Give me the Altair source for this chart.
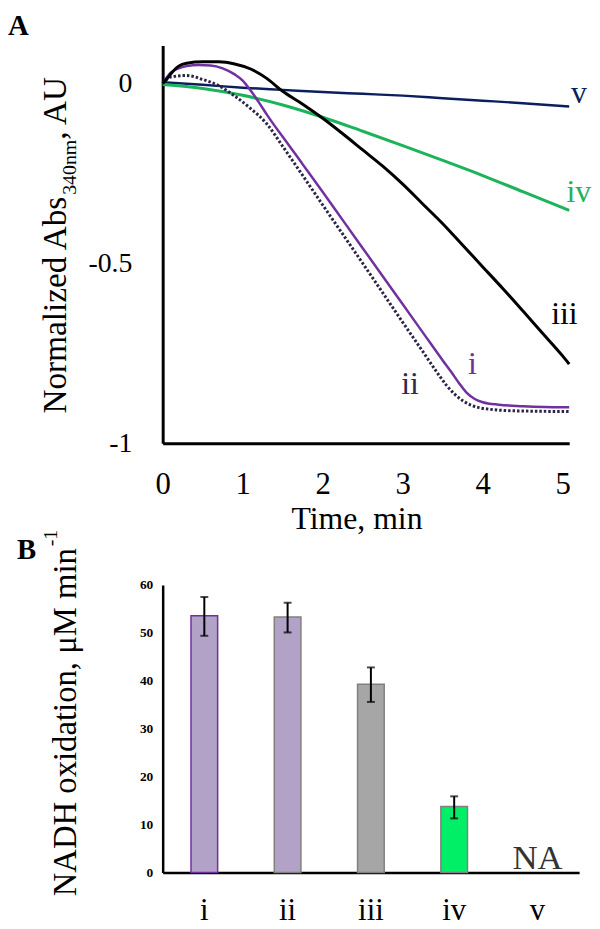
import altair as alt
import pandas as pd

FONT = "Liberation Serif"

# ---------------- Panel A: normalized absorbance traces ----------------
t_i = [0, 0.1, 0.2, 0.3, 0.45, 0.6, 0.75, 0.9, 1.0, 1.1, 1.2, 1.3, 1.4, 1.5, 1.75, 2.0, 2.25, 2.5, 2.75,
       3.0, 3.25, 3.5, 3.6, 3.7, 3.8, 3.9, 4.0, 4.2, 4.5, 5.0, 5.08]
v_i = [0, 0.03, 0.042, 0.048, 0.051, 0.050, 0.042, 0.025, 0.008, -0.02, -0.052, -0.086, -0.118, -0.148,
       -0.225, -0.302, -0.38, -0.458, -0.536, -0.614, -0.692, -0.77, -0.80, -0.832, -0.86, -0.877, -0.886,
       -0.893, -0.897, -0.90, -0.90]

t_ii = [0, 0.1, 0.3, 0.5, 0.7, 0.9, 1.1, 1.3, 1.5, 1.75, 2.0, 2.25, 2.5, 2.75, 3.0, 3.25, 3.45, 3.55, 3.65,
        3.75, 3.85, 3.95, 4.1, 4.4, 5.08]
v_ii = [0, 0.018, 0.022, 0.011, -0.006, -0.035, -0.07, -0.112, -0.175, -0.256, -0.338, -0.419, -0.50,
        -0.582, -0.664, -0.745, -0.81, -0.84, -0.864, -0.882, -0.894, -0.901, -0.906, -0.91, -0.912]

t_iii = [0, 0.05, 0.1, 0.2, 0.3, 0.5, 0.7, 0.9, 1.1, 1.3, 1.5, 1.75, 2.0, 2.25, 2.5, 2.75, 3.0, 3.25, 3.5,
         3.75, 4.0, 4.25, 4.5, 4.75, 5.0, 5.08]
v_iii = [0, 0.012, 0.026, 0.048, 0.056, 0.060, 0.060, 0.054, 0.040, 0.014, -0.022, -0.058, -0.097, -0.14,
         -0.185, -0.23, -0.28, -0.335, -0.39, -0.45, -0.51, -0.57, -0.632, -0.695, -0.758, -0.78]

t_iv = [0, 0.5, 1.0, 1.5, 2.0, 2.5, 3.0, 3.5, 4.0, 4.5, 5.08]
v_iv = [-0.003, -0.014, -0.033, -0.060, -0.094, -0.133, -0.173, -0.214, -0.256, -0.301, -0.353]

t_v = [0, 0.5, 1.0, 1.5, 2.0, 2.5, 3.0, 3.5, 4.0, 4.5, 5.08]
v_v = [0.003, -0.004, -0.012, -0.018, -0.024, -0.029, -0.034, -0.041, -0.048, -0.055, -0.064]

x_ticks_A = [0, 1, 2, 3, 4, 5]
y_ticks_A = [0, -0.5, -1]

curve_labels = ["i", "ii", "iii", "iv", "v"]
curve_label_t = [3.87, 3.09, 5.02, 5.2, 5.2]
curve_label_v = [-0.78, -0.835, -0.642, -0.303, -0.028]
curve_colors = ["#7030a0", "#2e2a4f", "#000000", "#1db35a", "#0b1f5e"]

# ---------------- Panel B: NADH oxidation rates ----------------
cats = ["i", "ii", "iii", "iv", "v"]
rate = [53.6, 53.3, 39.3, 13.8]
err_lo = [49.4, 50.1, 35.6, 11.3]
err_hi = [57.5, 56.3, 42.8, 15.9]
bar_fill = ["#b3a2c7", "#b3a2c7", "#a6a6a6", "#00ef66"]
bar_stroke = ["#7030a0", "#808080", "#808080", "#808080"]
y_ticks_B = [0, 10, 20, 30, 40, 50, 60]


def text_layer(txt, x, y, size, angle=0, align="left", baseline="alphabetic", bold=False, color="black"):
    return alt.Chart(pd.DataFrame({"txt": [txt]})).mark_text(
        font=FONT, fontSize=size, angle=angle, align=align, baseline=baseline,
        fontWeight="bold" if bold else "normal", color=color,
    ).encode(x=alt.value(x), y=alt.value(y), text="txt:N")


# ----- Panel A -----
WA, HA = 410, 401
xA = alt.X("t:Q", scale=alt.Scale(domain=[0, 5.08], nice=False, zero=False),
           axis=alt.Axis(values=x_ticks_A, title=None, ticks=False, grid=False, domainColor="black",
                         domainWidth=3, labelFont=FONT, labelFontSize=31, labelColor="black",
                         labelBaseline="alphabetic", labelPadding=51, labelFlush=False,
                         labelOverlap=False, format="d"))
yA = alt.Y("v:Q", scale=alt.Scale(domain=[-1, 0.105], nice=False, zero=False),
           axis=alt.Axis(values=y_ticks_A, title=None, ticks=False, grid=False, domainColor="black",
                         domainWidth=3, labelFont=FONT, labelFontSize=28, labelColor="black",
                         labelPadding=31, labelExpr="'' + datum.value", labelFlush=False,
                         labelOverlap=False))

series = [
    ("v", t_v, v_v, "#0b1f5e", 2.5, None),
    ("iv", t_iv, v_iv, "#1db35a", 3, None),
    ("ii", t_ii, v_ii, "#2c2448", 3, [2.5, 2]),
    ("i", t_i, v_i, "#7030a0", 2.5, None),
    ("iii", t_iii, v_iii, "#000000", 3, None),
]
line_layers = []
for name, ts, vs, col, w, dash in series:
    df = pd.DataFrame({"t": ts, "v": vs})
    kw = dict(color=col, strokeWidth=w, interpolate="monotone")
    if dash:
        kw["strokeDash"] = dash
    line_layers.append(alt.Chart(df).mark_line(**kw).encode(x=xA, y=yA))

lab_df = pd.DataFrame({"t": curve_label_t, "v": curve_label_v, "txt": curve_labels, "col": curve_colors})
lab_layer = alt.Chart(lab_df).mark_text(font=FONT, fontSize=32, align="center", baseline="middle").encode(
    x=xA, y=yA, text="txt:N", color=alt.Color("col:N", scale=None))

chartA = alt.layer(
    *line_layers,
    lab_layer,
    text_layer("A", -156, -11, 29, bold=True),
    text_layer("Normalized Abs", -97, 371, 33.5, angle=270),
    text_layer("340nm", -87, 150.5, 20, angle=270),
    text_layer(", AU", -97, 95, 33.5, angle=270),
    text_layer("Time, min", 196, 488, 32, align="center"),
).properties(width=WA, height=HA)

# ----- Panel B -----
WB, HB = 420, 290
dfB = pd.DataFrame({"cat": cats[:4], "rate": rate, "lo": err_lo, "hi": err_hi,
                    "fill": bar_fill, "stroke": bar_stroke})
xB = alt.X("cat:N", sort=cats, scale=alt.Scale(domain=cats, paddingInner=0.68, paddingOuter=0.34),
           axis=alt.Axis(title=None, ticks=False, grid=False, labelAngle=0, domainColor="black",
                         domainWidth=2.5, labelFont=FONT, labelFontSize=31, labelColor="black",
                         labelBaseline="alphabetic", labelPadding=47))
yB = alt.Y("rate:Q", scale=alt.Scale(domain=[0, 60], nice=False),
           axis=alt.Axis(values=y_ticks_B, title=None, ticks=False, grid=False, domainColor="black",
                         domainWidth=2.5, labelFont=FONT, labelFontSize=13.5, labelFontWeight="bold",
                         labelColor="black", labelPadding=10, labelFlush=False, labelOverlap=False))

bars = alt.Chart(dfB).mark_bar(strokeWidth=1.5).encode(
    x=xB, y=yB, fill=alt.Fill("fill:N", scale=None), stroke=alt.Stroke("stroke:N", scale=None))
err_rule = alt.Chart(dfB).mark_rule(color="black", strokeWidth=2).encode(
    x=xB, y=alt.Y("lo:Q"), y2="hi:Q")
cap_hi = alt.Chart(dfB).mark_tick(color="black", thickness=2, size=8, orient="horizontal").encode(
    x=xB, y=alt.Y("hi:Q"))
cap_lo = alt.Chart(dfB).mark_tick(color="black", thickness=2, size=8, orient="horizontal").encode(
    x=xB, y=alt.Y("lo:Q"))
na_text = alt.Chart(pd.DataFrame({"cat": ["v"], "rate": [0], "txt": ["NA"]})).mark_text(
    font=FONT, fontSize=35, baseline="alphabetic", align="center", dy=-4, color="#333333").encode(
    x=xB, y=yB, text="txt:N")

chartB = alt.layer(
    bars, err_rule, cap_hi, cap_lo, na_text,
    text_layer("B", -147, -26, 29, bold=True),
    text_layer("NADH oxidation, \u03bcM min", -87, 314, 33, angle=270),
    text_layer("-1", -107, -39, 20, angle=270),
).properties(width=WB, height=HB)

chart = alt.vconcat(chartA, chartB, spacing=-6).properties(padding=0).configure_view(stroke=None)

chart.save("out.html", embed_options={"renderer": "svg", "actions": False})
